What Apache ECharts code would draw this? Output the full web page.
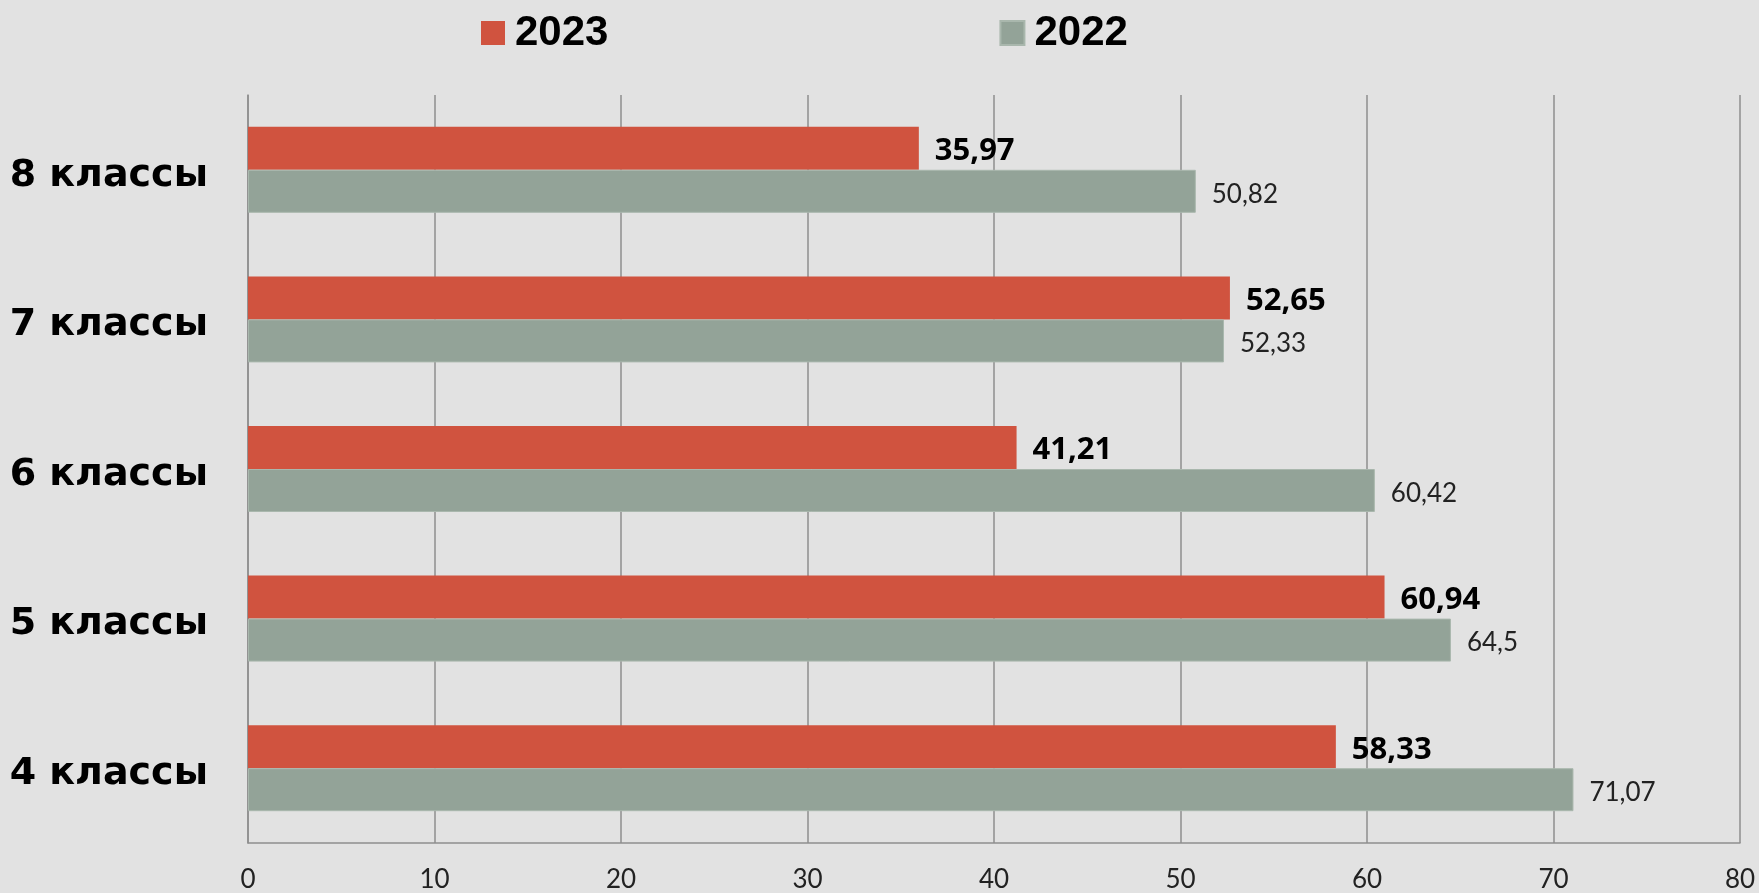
<!DOCTYPE html>
<html>
<head>
<meta charset="utf-8">
<script src="https://cdn.jsdelivr.net/npm/echarts@6/dist/echarts.min.js"></script>
<style>
  html, body { margin: 0; padding: 0; background: #e2e2e2; }
  #chart { width: 1759px; height: 893px; }
</style>
</head>
<body>
<div id="chart"></div>
<script>
// категории снизу вверх
const categories = ['4 классы', '5 классы', '6 классы', '7 классы', '8 классы']
const values2023 = [58.33, 60.94, 41.21, 52.65, 35.97]
const values2022 = [71.07, 64.5, 60.42, 52.33, 50.82]
const seriesNames = ['2023', '2022']

const gridColor = '#8e8e8e'
const commaFmt = p => String(p.value).replace('.', ',')

let myChart = echarts.init(document.getElementById('chart'))
const option = {
  backgroundColor: '#e2e2e2',
  animation: false,
  legend: {
    data: seriesNames,
    top: 7,
    left: 476,
    itemWidth: 24,
    itemHeight: 24,
    itemGap: 391,
    icon: 'rect',
    textStyle: {
      fontFamily: 'Liberation Sans',
      fontWeight: 'bold',
      fontSize: 42,
      color: '#000',
      padding: [0, 0, 0, 5]
    }
  },
  grid: { left: 248, right: 19, top: 95, bottom: 48 },
  xAxis: {
    type: 'value',
    min: 0,
    max: 80,
    interval: 10,
    axisLine: { show: true, lineStyle: { color: gridColor, width: 1.5 } },
    axisTick: { show: false },
    axisLabel: { fontFamily: 'Lato', fontSize: 26, color: '#222', margin: 24 },
    splitLine: { show: true, lineStyle: { color: gridColor, width: 1.5 } }
  },
  yAxis: {
    type: 'category',
    data: categories,
    axisLine: { show: true, lineStyle: { color: gridColor, width: 1.5 } },
    axisTick: { show: false },
    axisLabel: {
      fontFamily: 'DejaVu Sans',
      fontWeight: 'bold',
      fontSize: 38,
      color: '#000',
      margin: 40,
      verticalAlign: 'top',
      lineHeight: 12
    }
  },
  series: [{
    name: seriesNames[0],
    type: 'bar',
    barWidth: 43,
    barGap: '0%',
    itemStyle: { color: '#d0533f' },
    label: {
      show: true,
      position: 'right',
      distance: 16,
      offset: [0, 3],
      formatter: commaFmt,
      fontFamily: 'Noto Sans',
      fontWeight: 'bold',
      fontSize: 31,
      color: '#000'
    },
    data: values2023
  }, {
    name: seriesNames[1],
    type: 'bar',
    barWidth: 43,
    itemStyle: { color: '#93a398', borderColor: '#a9b7ad', borderWidth: 1 },
    label: {
      show: true,
      position: 'right',
      distance: 16,
      offset: [0, 3],
      formatter: commaFmt,
      fontFamily: 'Lato',
      fontSize: 26,
      color: '#222'
    },
    data: values2022
  }]
}
myChart.setOption(option)
</script>
</body>
</html>
